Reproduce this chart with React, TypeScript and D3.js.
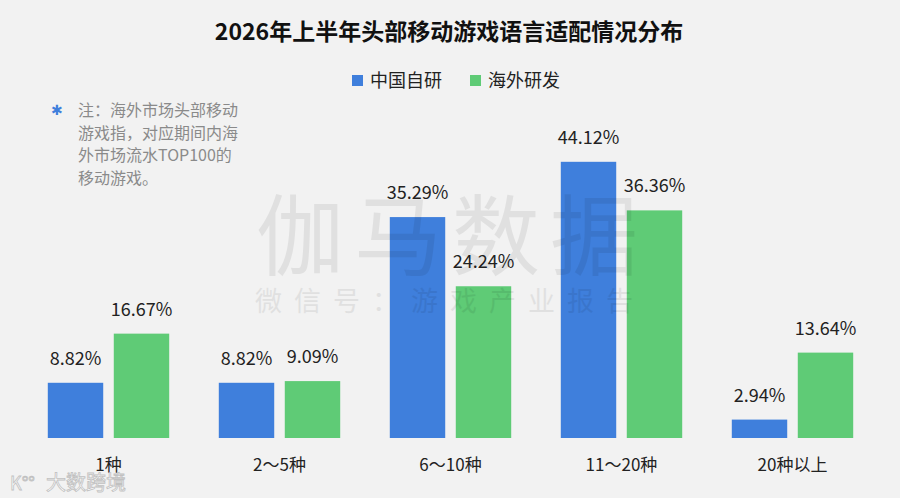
import React from "react";
import * as d3 from "d3";

const categories = ["1种", "2～5种", "6～10种", "11～20种", "20种以上"];
const seriesNames = ["中国自研", "海外研发"];
const domestic = [8.82, 8.82, 35.29, 44.12, 2.94];
const overseas = [16.67, 9.09, 24.24, 36.36, 13.64];
const colors = ["#3f7fdc", "#5fcb76"];
const noteLines = ["注：海外市场头部移动", "游戏指，对应期间内海", "外市场流水TOP100的", "移动游戏。"];

const W = 900;
const H = 498;
const FONT = "'Noto Sans CJK SC', 'Noto Sans', sans-serif";

export default function App() {
  const x0 = d3.scaleBand<string>().domain(categories).range([23, 878]).paddingInner(0.29).paddingOuter(0.145);
  const x1 = d3.scaleBand<string>().domain(seriesNames).range([0, x0.bandwidth()]).paddingInner(0.16);
  const y = d3.scaleLinear().domain([0, 50]).range([438, 125]);
  const series = [domestic, overseas];

  return (
    <svg width={W} height={H} style={{ position: "absolute", left: 0, top: 0, background: "#f2f2f2", fontFamily: FONT }}>
      <rect x={0} y={0} width={W} height={H} fill="#f2f2f2" />
      <text x={449} y={40} textAnchor="middle" fontSize={23} fontWeight={700} fill="#111">
        2026年上半年头部移动游戏语言适配情况分布
      </text>
      {/* legend */}
      <g>
        <rect x={352} y={75} width={11} height={11} fill={colors[0]} />
        <text x={370} y={87} fontSize={18} fill="#222">{seriesNames[0]}</text>
        <rect x={470} y={75} width={11} height={11} fill={colors[1]} />
        <text x={488} y={87} fontSize={18} fill="#222">{seriesNames[1]}</text>
      </g>
      {/* note */}
      <text x={57} y={115} textAnchor="middle" fontSize={14} fill="#3f7fdc">✱</text>
      {noteLines.map((l, i) => (
        <text key={i} x={78} y={116 + i * 22.7} fontSize={16} fill="#8a8a8a">{l}</text>
      ))}
      {/* bars */}
      {categories.map((c, ci) => (
        <g key={c} transform={`translate(${x0(c)},0)`}>
          {seriesNames.map((s, si) => {
            const v = series[si][ci];
            const bx = x1(s) as number;
            return (
              <g key={s}>
                <rect x={bx} y={y(v)} width={x1.bandwidth()} height={y(0) - y(v)} fill={colors[si]} />
                <text x={bx + x1.bandwidth() / 2} y={y(v) - 18} textAnchor="middle" fontSize={18} fill="#222">
                  {v.toFixed(2)}%
                </text>
              </g>
            );
          })}
          <text x={x0.bandwidth() / 2} y={471} textAnchor="middle" fontSize={17} fill="#222">{c}</text>
        </g>
      ))}
      {/* watermark */}
      <text x={452} y={268} textAnchor="middle" fontSize={88} letterSpacing={10} fill="#000" opacity={0.07}>伽马数据</text>
      <text x={450} y={311} textAnchor="middle" fontSize={27} letterSpacing={12} fill="#000" opacity={0.07}>微信号：游戏产业报告</text>
      <text x={10} y={490} fontSize={18} fill="#fff" stroke="#bbb" strokeWidth={0.8} opacity={0.9}>K°°</text>
      <text x={46} y={490} fontSize={20} fill="#fff" stroke="#bbb" strokeWidth={0.8} opacity={0.9}>大数跨境</text>
    </svg>
  );
}
